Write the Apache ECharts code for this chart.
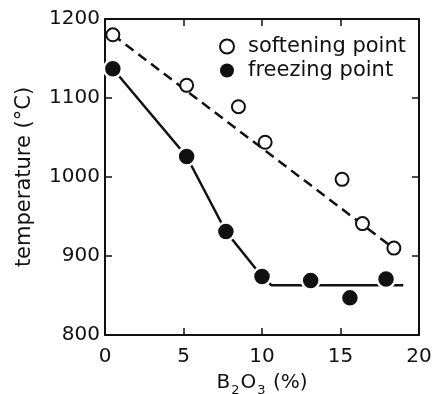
<!DOCTYPE html>
<html>
<head>
<meta charset="utf-8">
<script src="https://cdn.jsdelivr.net/npm/echarts@6/dist/echarts.min.js"></script>
<style>
  html, body { margin: 0; padding: 0; background: #fff; }
  #chart { width: 435px; height: 394px; }
</style>
</head>
<body>
<div id="chart"></div>
<script>
// B2O3 content (%) and measured temperatures (°C)
const softeningX = [0.5, 5.2, 8.5, 10.2, 15.1, 16.4, 18.4];
const softeningY = [1180, 1116, 1089, 1044, 997, 941, 910];
const freezingX = [0.5, 5.2, 7.7, 10.0, 13.1, 15.6, 17.9];
const freezingY = [1137, 1026, 931, 874, 869, 847, 871];

// hand-drawn guide lines
const softeningLineX = [0.5, 18.7];
const softeningLineY = [1180, 905];
const freezingLineX = [0.5, 5.2, 7.7, 10.0, 10.6, 19.0];
const freezingLineY = [1137, 1026, 931, 874, 863, 863];

const xTicks = [0, 5, 10, 15, 20];
const yTicks = [800, 900, 1000, 1100, 1200];

function pairs(xs, ys) {
  return xs.map((x, i) => [x, ys[i]]);
}

const ink = "#111";
const font = "DejaVu Sans";

let chart = echarts.init(document.getElementById("chart"), null, { renderer: "canvas" });

let axisBase = {
  axisLine: { show: true, onZero: false, lineStyle: { color: ink, width: 2 } },
  axisTick: { show: true, inside: true, length: 7, lineStyle: { color: ink, width: 1.5 } },
  splitLine: { show: false }
};

let option = {
  backgroundColor: "#fff",
  animation: false,
  grid: { left: 105, right: 16, top: 19, bottom: 59, containLabel: false, outerBoundsMode: "none" },
  legend: {
    orient: "vertical",
    left: 214,
    top: 31,
    itemWidth: 14,
    itemHeight: 14,
    itemGap: 3,
    data: [
      { name: "softening point", itemStyle: { color: "#fff", borderColor: ink, borderWidth: 2 } },
      { name: "freezing point", itemStyle: { color: ink, borderWidth: 0 } }
    ],
    textStyle: { fontFamily: font, fontSize: 21, color: ink, padding: [0, 0, 0, 9] }
  },
  xAxis: [
    Object.assign({}, axisBase, {
      type: "value",
      min: xTicks[0],
      max: xTicks[xTicks.length - 1],
      interval: 5,
      position: "bottom",
      name: "{b|B}{s|2}{b|O}{s|3}{b| (%)}",
      nameLocation: "middle",
      nameGap: 34,
      nameTextStyle: {
        rich: {
          b: { fontFamily: font, fontSize: 20, color: ink, lineHeight: 24, verticalAlign: "bottom" },
          s: { fontFamily: font, fontSize: 13, color: ink, lineHeight: 24, verticalAlign: "bottom", padding: [0, 1, -4, 1] }
        }
      },
      axisLabel: { fontFamily: font, fontSize: 20, color: ink, margin: 12 }
    }),
    Object.assign({}, axisBase, {
      type: "value",
      min: xTicks[0],
      max: xTicks[xTicks.length - 1],
      interval: 5,
      position: "top",
      axisLabel: { show: false }
    })
  ],
  yAxis: [
    Object.assign({}, axisBase, {
      type: "value",
      min: yTicks[0],
      max: yTicks[yTicks.length - 1],
      interval: 100,
      position: "left",
      name: "temperature (°C)",
      nameLocation: "middle",
      nameGap: 70,
      nameTextStyle: { fontFamily: font, fontSize: 21, color: ink },
      axisLabel: { fontFamily: font, fontSize: 20, color: ink, margin: 5, formatter: (v) => String(v) }
    }),
    Object.assign({}, axisBase, {
      type: "value",
      min: yTicks[0],
      max: yTicks[yTicks.length - 1],
      interval: 100,
      position: "right",
      axisLabel: { show: false }
    })
  ],
  series: [
    {
      type: "line",
      data: pairs(softeningLineX, softeningLineY),
      symbol: "none",
      z: 1,
      lineStyle: { color: ink, width: 2.5, type: [10, 6] }
    },
    {
      type: "line",
      data: pairs(freezingLineX, freezingLineY),
      symbol: "none",
      z: 1,
      lineStyle: { color: ink, width: 2.5 }
    },
    {
      name: "softening point",
      type: "scatter",
      data: pairs(softeningX, softeningY),
      symbol: "circle",
      symbolSize: 13,
      z: 3,
      itemStyle: { color: "#fff", borderColor: ink, borderWidth: 2, opacity: 1 }
    },
    {
      name: "freezing point",
      type: "scatter",
      data: pairs(freezingX, freezingY),
      symbol: "circle",
      symbolSize: 18,
      z: 3,
      itemStyle: { color: ink, borderColor: "#fff", borderWidth: 2.5, opacity: 1 }
    }
  ]
};

chart.setOption(option);
</script>
</body>
</html>
